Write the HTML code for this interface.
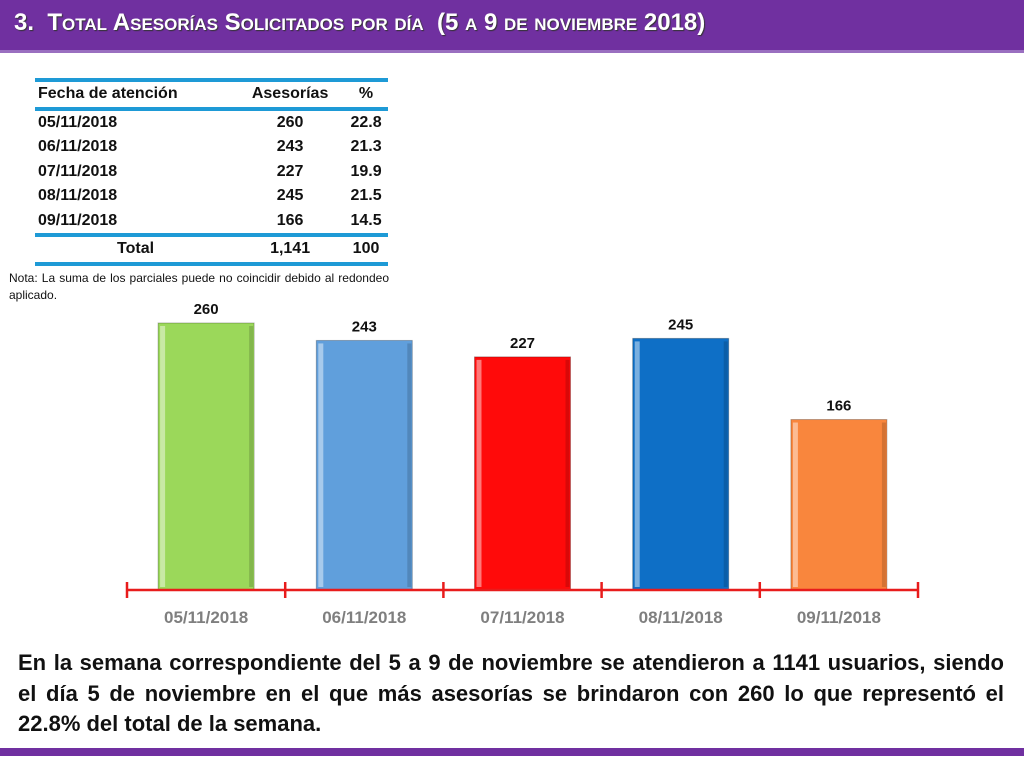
<!DOCTYPE html>
<html><head><meta charset="utf-8">
<style>
body{margin:0;width:1024px;height:768px;background:#fff;position:relative;overflow:hidden;font-family:"Liberation Sans",sans-serif}
.hdr{position:absolute;left:0;top:0;width:1024px;height:50px;background:#7030a0;border-bottom:3px solid #9a6fc0}
.hdr h1{margin:0;position:absolute;left:14px;top:9px;color:#fff;font-size:24px;font-weight:bold;font-variant:small-caps;text-shadow:1px 1px 1px #333;letter-spacing:0}
table{position:absolute;left:35px;top:78px;width:353px;border-collapse:collapse;font-weight:bold;font-size:16px;color:#111}
td{padding:0;height:24.5px;line-height:24px}
.tl{border-top:4px solid #1e9ad6}
.note{position:absolute;left:9px;top:270px;width:380px;font-size:12px;color:#111;text-align:justify;line-height:17px}
.foot{position:absolute;left:18px;top:648px;width:986px;font-family:"Liberation Sans Narrow","Liberation Sans",sans-serif;font-weight:bold;font-size:22px;line-height:30.5px;text-align:justify;color:#111}
.bar2{position:absolute;left:0;top:748px;width:1024px;height:8px;background:#7030a0}
</style></head><body>
<div class="hdr"><h1>3.&nbsp; Total Asesorías Solicitados por día&nbsp; (5 a 9 de noviembre 2018)</h1></div>
<table>
<tr class="tl"><td style="padding-left:3px">Fecha de atención</td><td style="text-align:center">Asesorías</td><td style="text-align:center">%</td></tr>
<tr class="tl"><td style="padding-left:3px">05/11/2018</td><td style="text-align:center">260</td><td style="text-align:center">22.8</td></tr>
<tr><td style="padding-left:3px">06/11/2018</td><td style="text-align:center">243</td><td style="text-align:center">21.3</td></tr>
<tr><td style="padding-left:3px">07/11/2018</td><td style="text-align:center">227</td><td style="text-align:center">19.9</td></tr>
<tr><td style="padding-left:3px">08/11/2018</td><td style="text-align:center">245</td><td style="text-align:center">21.5</td></tr>
<tr><td style="padding-left:3px">09/11/2018</td><td style="text-align:center">166</td><td style="text-align:center">14.5</td></tr>
<tr class="tl" style="border-bottom:4px solid #1e9ad6"><td style="text-align:center">Total</td><td style="text-align:center">1,141</td><td style="text-align:center">100</td></tr>
</table>
<div class="note">Nota: La suma de los parciales puede no coincidir debido al redondeo aplicado.</div>
<svg id="chart" width="1024" height="768" style="position:absolute;left:0;top:0"></svg>
<div class="foot">En la semana correspondiente del 5 a 9 de noviembre se atendieron a 1141 usuarios, siendo el día 5 de noviembre en el que más asesorías se brindaron con 260 lo que representó el 22.8% del total de la semana.</div>
<div class="bar2"></div>
<script>
const categories=["05/11/2018","06/11/2018","07/11/2018","08/11/2018","09/11/2018"];
const values=[260,243,227,245,166];
const colors=["#9bd85a","#609fdc","#ff0a0a","#0e6fc6","#f9863d"];
const svg=document.getElementById('chart');
const NS='http://www.w3.org/2000/svg';
const x0=127,step=158.2,baseY=590,k=1.027,bw=96;
const xBand=i=>x0+i*step;
const y=v=>baseY-v*k;
function mk(t,a){const e=document.createElementNS(NS,t);for(const n in a)e.setAttribute(n,a[n]);svg.appendChild(e);return e;}
categories.forEach((c,i)=>{
  const cx=xBand(i)+step/2, top=y(values[i]);
  const r=mk('rect',{x:cx-bw/2,y:top,width:bw,height:baseY-top,fill:colors[i],stroke:'rgba(0,0,0,0.25)','stroke-width':1});
  
  
  const h=mk('rect',{x:cx-bw/2+2,y:top+3,width:5,height:baseY-top-6,fill:'rgba(255,255,255,0.45)'});
  
  
  const s=mk('rect',{x:cx+bw/2-5,y:top+3,width:4,height:baseY-top-6,fill:'rgba(0,0,0,0.15)'});
  
  
  const lt=mk('text',{x:cx,y:top-9,'text-anchor':'middle','font-size':15,'font-weight':'bold',fill:'#111','font-family':'Liberation Sans'});
  lt.textContent=values[i];
  
  
  const ct=mk('text',{x:cx,y:623,'text-anchor':'middle','font-size':17,'font-weight':'bold',fill:'#7f7f7f','font-family':'Liberation Sans'});
  ct.textContent=c;
  
  
});
const ax=mk('line',{x1:x0,y1:baseY,x2:xBand(categories.length),y2:baseY,stroke:'#e81c1c','stroke-width':2.5});


for(let i=0;i<=categories.length;i++){
  const t=mk('line',{x1:xBand(i),y1:baseY-8,x2:xBand(i),y2:baseY+8,stroke:'#e81c1c','stroke-width':2.5});
  
  
}
</script>
</body></html>
